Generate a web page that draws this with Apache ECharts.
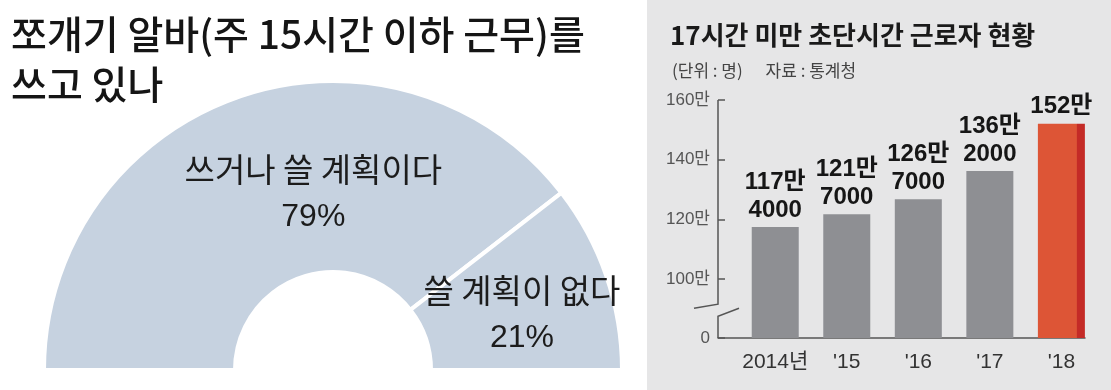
<!DOCTYPE html>
<html><head><meta charset="utf-8">
<script src="https://cdn.jsdelivr.net/npm/echarts@6/dist/echarts.min.js"></script>
<style>
html,body{margin:0;padding:0;width:1111px;height:390px;overflow:hidden;background:#fff}
#left{position:absolute;left:0;top:0;width:647px;height:390px;background:#fff}
#right{position:absolute;left:647px;top:0;width:464px;height:390px;background:#e6e6e7}
</style></head><body>
<div id="left"></div><div id="right"></div>
<script>
// ---- data ----
const pieTitle = '쪼개기 알바(주 15시간 이하 근무)를\n쓰고 있나';
const pieNames = ['쓰거나 쓸 계획이다', '쓸 계획이 없다'];
const pieValues = [79, 21];

const barTitle = '17시간 미만 초단시간 근로자 현황';
const barSubtitle = '(단위 : 명)      자료 : 통계청';
const years = ['2014년', "'15", "'16", "'17", "'18"];
const workers = [117.4, 121.7, 126.7, 136.2, 152]; // 단위: 만 명
const yTicks = [0, 100, 120, 140, 160];
const yBreak = {start: 6, end: 94.2, gap: 8};

// ---- styles ----
const KR = "'Noto Sans CJK KR', sans-serif";
const LAT = "'Liberation Sans', 'Noto Sans CJK KR', sans-serif";

function fmtWorkers(v) {
  const man = Math.floor(v + 1e-9);
  const rest = Math.round((v - man) * 10000);
  return rest ? man + '만\n' + rest : man + '만';
}

const left = echarts.init(document.getElementById('left'));
left.setOption({
  animation: false,
  title: {
    text: pieTitle, left: 6, top: 4,
    textStyle: {fontFamily: KR, fontSize: 39, fontWeight: 500, lineHeight: 50, color: '#151515'}
  },
  series: [{
    type: 'pie', center: [333, 370], radius: [98, 289],
    startAngle: 180, endAngle: 0, clockwise: true,
    silent: true, avoidLabelOverlap: false,
    itemStyle: {color: '#c6d2e0', borderColor: '#ffffff', borderWidth: 4},
    label: {
      show: true, position: 'inside',
      formatter: p => '{n|' + p.name + '}\n{p|' + p.value + '%}',
      rich: {
        n: {fontFamily: KR, fontSize: 33, color: '#1c1c1c', lineHeight: 48},
        p: {fontFamily: LAT, fontSize: 32, color: '#1c1c1c', lineHeight: 48}
      }
    },
    labelLine: {show: false},
    labelLayout: p => p.dataIndex === 0 ? {dx: 44, dy: 9} : {dx: 3, dy: 8},
    data: pieNames.map((n, i) => ({name: n, value: pieValues[i]}))
  }]
});

const right = echarts.init(document.getElementById('right'));
const redGrad = new echarts.graphic.LinearGradient(0, 0, 1, 0, [
  {offset: 0, color: '#dd5536'}, {offset: 0.82, color: '#dd5536'},
  {offset: 0.83, color: '#c42b27'}, {offset: 1, color: '#c42b27'}
]);
right.setOption({
  animation: false,
  title: [
    {text: barTitle, left: 18, top: 17,
     textStyle: {fontFamily: KR, fontSize: 26, fontWeight: 'bold', color: '#1a1a1a'}},
    {text: barSubtitle, left: 20, top: 57,
     textStyle: {fontFamily: KR, fontSize: 17, fontWeight: 'normal', color: '#444'}}
  ],
  grid: {left: 71, right: 26, top: 100, bottom: 52},
  xAxis: {
    type: 'value', min: -0.8, max: 4.33,
    axisLine: {onZero: false, lineStyle: {color: '#555', width: 1.5}},
    axisTick: {show: false}, splitLine: {show: false},
    axisLabel: {customValues: [0, 1, 2, 3, 4], formatter: v => years[Math.round(v)],
      fontFamily: LAT, fontSize: 21, color: '#333', margin: 14}
  },
  yAxis: {
    type: 'value', min: 0, max: 160,
    breaks: [yBreak], breakArea: {show: false},
    axisLine: {show: false, onZero: false},
    axisTick: {show: true, inside: true, length: 7, customValues: yTicks,
      lineStyle: {color: '#555', width: 1.5}},
    axisLabel: {customValues: yTicks, formatter: v => v === 0 ? '0' : v + '만',
      fontFamily: LAT, fontSize: 17, color: '#555', margin: 8},
    splitLine: {show: false}
  },
  series: [{
    type: 'bar', barWidth: 47,
    data: workers.map((v, i) => ({value: [i, v],
      itemStyle: {color: i === workers.length - 1 ? redGrad : '#8e8f93'}})),
    label: {show: true, position: 'top', distance: 3,
      formatter: p => fmtWorkers(p.value[1]),
      fontFamily: LAT, fontSize: 24, fontWeight: 'bold', lineHeight: 28, color: '#161616'}
  }]
});

// y-axis line with a hand-drawn break mark, positioned through the axis scales
const ax = right.convertToPixel({xAxisIndex: 0}, -0.8);
const yTop = right.convertToPixel({yAxisIndex: 0}, 160);
const yZero = right.convertToPixel({yAxisIndex: 0}, 0);
const yB1 = right.convertToPixel({yAxisIndex: 0}, yBreak.end);
const yB0 = right.convertToPixel({yAxisIndex: 0}, yBreak.start);
const mid = (yB1 + yB0) / 2;
const ls = {stroke: '#555', lineWidth: 1.5, fill: null};
right.setOption({
  graphic: [
    {type: 'polyline', shape: {points: [[ax, yTop], [ax, mid - 4], [ax - 24, mid]]}, style: ls, silent: true},
    {type: 'polyline', shape: {points: [[ax + 21, mid], [ax, mid + 8], [ax, yZero]]}, style: ls, silent: true}
  ]
});
</script></body></html>
